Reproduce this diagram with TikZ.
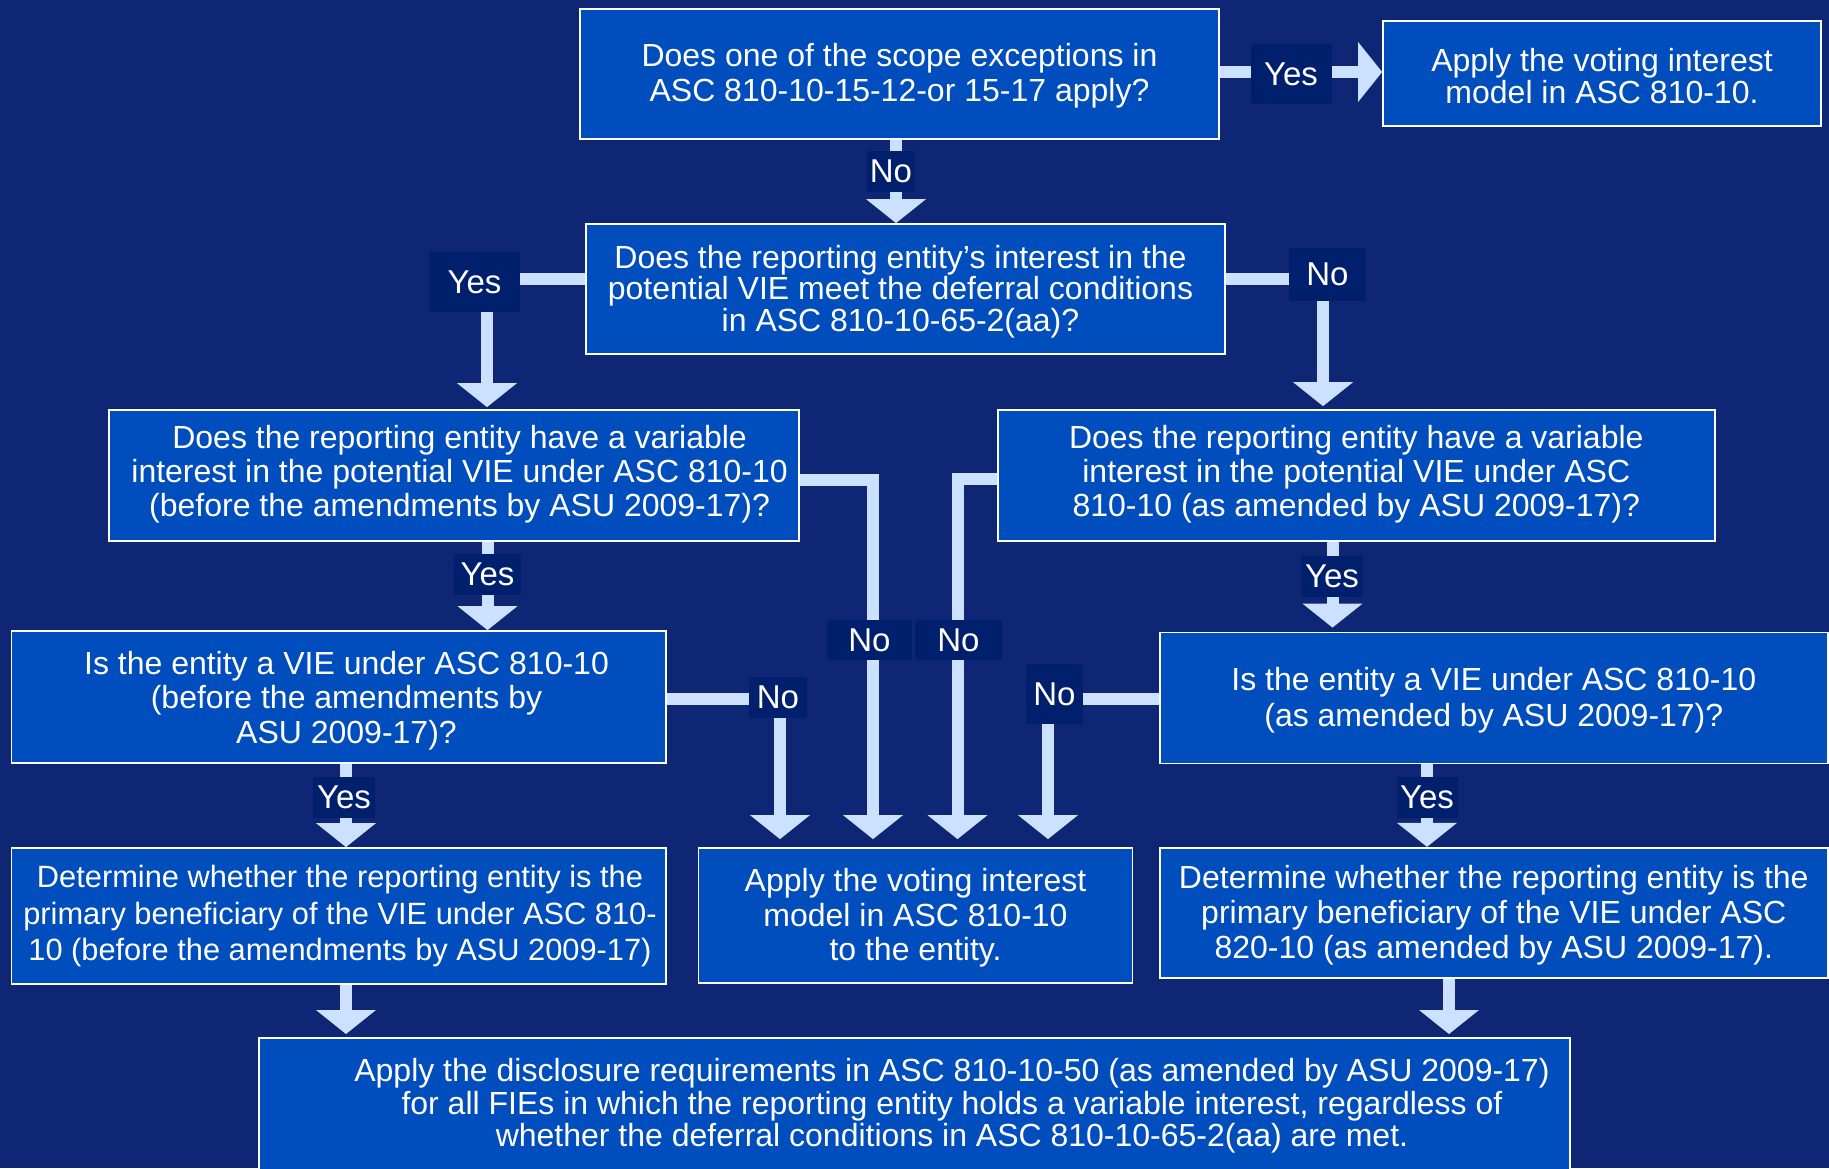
\documentclass[tikz,border=0pt]{standalone}
\usepackage{fontspec}
\setmainfont{Liberation Sans}
\usetikzlibrary{arrows.meta}
\definecolor{bgc}{RGB}{14,38,115}
\definecolor{boxc}{RGB}{0,77,190}
\definecolor{labc}{RGB}{0,32,110}
\definecolor{arrc}{RGB}{204,224,255}
\tikzset{
  box/.style={draw=white, line width=1.8pt, fill=boxc, inner sep=0pt},
  txt/.style={text=white, align=center, inner sep=0pt, font=\fontsize{32}{35}\selectfont},
  lead/.style={font=\fontsize{32}{#1}\selectfont},
  lab/.style={fill=labc, text=white, inner sep=0pt, font=\fontsize{33}{33}\selectfont},
  conn/.style={draw=arrc, line width=12pt, line join=miter, -{Triangle[width=60pt,length=24pt,line width=0pt]}},
}
\begin{document}
\begin{tikzpicture}[x=1pt,y=-1pt]
\fill[bgc] (0,0) rectangle (1829,1168);
\useasboundingbox (0,0) rectangle (1829,1168);
\clip (0,0) rectangle (1829,1168);

% boxes
\node[box, minimum width=639pt, minimum height=130pt] (B1) at (899.5,74) {};
\node[box, minimum width=438pt, minimum height=105pt] (B2) at (1602,73.5) {};
\node[box, minimum width=639pt, minimum height=130pt] (B3) at (905.5,289) {};
\node[box, minimum width=690pt, minimum height=131pt] (B4) at (454,475.5) {};
\node[box, minimum width=716.6pt, minimum height=130.7pt] (B5) at (1356.3,475.4) {};
\node[box, minimum width=654.5pt, minimum height=132pt] (B6) at (338.8,697) {};
\node[box, minimum width=667.6pt, minimum height=131pt] (B7) at (1493.8,698) {};
\node[box, minimum width=654.5pt, minimum height=135.6pt] (B8) at (338.8,915.8) {};
\node[box, minimum width=667.6pt, minimum height=130.3pt] (B9) at (1493.8,912.9) {};
\node[box, minimum width=434pt, minimum height=135pt] (B10) at (915.5,915.5) {};
\node[box, minimum width=1311pt, minimum height=200pt, anchor=north west] (B11) at (258,1037) {};

% box texts
\node[txt] (B1t) at (899.5,75.5) {Does one of the scope exceptions in\\ASC 810-10-15-12-or 15-17 apply?};
\node[txt, lead=31.5] (B2t) at (1602,76) {Apply the voting interest\\model in ASC 810-10.};
\node[txt, lead=31.5] (B3t) at (900.5,291.5) {Does the reporting entity’s interest in the\\potential VIE meet the deferral conditions\\in ASC 810-10-65-2(aa)?};
\node[txt, lead=34] (B4t) at (459.6,474.5) {Does the reporting entity have a variable\\interest in the potential VIE under ASC 810-10\\(before the amendments by ASU 2009-17)?};
\node[txt, lead=34] (B5t) at (1356.3,474.5) {Does the reporting entity have a variable\\interest in the potential VIE under ASC\\810-10 (as amended by ASU 2009-17)?};
\node[txt, lead=34.4] (B6t) at (346.5,700.5) {Is the entity a VIE under ASC 810-10\\(before the amendments by\\ASU 2009-17)?};
\node[txt, lead=36] (B7t) at (1493.8,700.3) {Is the entity a VIE under ASC 810-10\\(as amended by ASU 2009-17)?};
\node[txt, font=\fontsize{30.8}{36.7}\selectfont] (B8t) at (340,916.3) {Determine whether the reporting entity is the\\primary beneficiary of the VIE under ASC 810-\\10 (before the amendments by ASU 2009-17)};
\node[txt, lead=35] (B9t) at (1493.8,915.5) {Determine whether the reporting entity is the\\primary beneficiary of the VIE under ASC\\820-10 (as amended by ASU 2009-17).};
\node[txt, lead=34.4] (B10t) at (915.5,917.8) {Apply the voting interest\\model in ASC 810-10\\to the entity.};
\node[txt, lead=32.7] (B11t) at (952,1105.8) {Apply the disclosure requirements in ASC 810-10-50 (as amended by ASU 2009-17)\\for all FIEs in which the reporting entity holds a variable interest, regardless of\\whether the deferral conditions in ASC 810-10-65-2(aa) are met.};

% connectors
\coordinate (k1) at (1300,72);
\draw[conn] (B1.east |- k1) -- (B2.west |- k1);
\coordinate (k2) at (896,171);
\draw[conn] (B1.south -| k2) -- (B3.north -| k2);
\coordinate (k3) at (487,279);
\draw[conn, shorten >=2pt] (B3.west |- k3) -| (B4.north -| k3);
\coordinate (k4) at (1323,279);
\draw[conn, shorten >=3pt] (B3.east |- k4) -| (B5.north -| k4);
\coordinate (k5) at (487.5,575);
\draw[conn] (B4.south -| k5) -- (B6.north -| k5);
\coordinate (k6) at (873,479.5);
\draw[conn, shorten >=8pt] (B4.east |- k6) -| (B10.north -| k6);
\coordinate (k7) at (957.5,478.5);
\draw[conn, shorten >=8pt] (B5.west |- k7) -| (B10.north -| k7);
\coordinate (k8) at (780,699);
\draw[conn, shorten >=8pt] (B6.east |- k8) -| (B10.north -| k8);
\coordinate (k9) at (1048,699);
\draw[conn, shorten >=8pt] (B7.west |- k9) -| (B10.north -| k9);
\coordinate (k10) at (346,797);
\draw[conn] (B6.south -| k10) -- (B8.north -| k10);
\coordinate (k11) at (1332.5,577);
\draw[conn, shorten >=4pt] (B5.south -| k11) -- (B7.north -| k11);
\coordinate (k12) at (1427,797);
\draw[conn] (B7.south -| k12) -- (B9.north -| k12);
\coordinate (k13) at (346,1010);
\draw[conn, shorten >=3pt] (B8.south -| k13) -- (B11.north -| k13);
\coordinate (k14) at (1449,1010);
\draw[conn, shorten >=3pt] (B9.south -| k14) -- (B11.north -| k14);

% labels
\node[lab, minimum width=81pt, minimum height=60pt] (L1) at (1291,74) {Yes};
\node[lab, minimum width=48pt, minimum height=41pt] (L2) at (891,171) {No};
\node[lab, minimum width=91pt, minimum height=60pt] (L3) at (474.5,282) {Yes};
\node[lab, minimum width=77pt, minimum height=53pt] (L4) at (1327.5,274.5) {No};
\node[lab, minimum width=67pt, minimum height=41pt] (L5) at (487.5,574.5) {Yes};
\node[lab, minimum width=85pt, minimum height=40pt] (L6) at (869.5,640) {No};
\node[lab, minimum width=87pt, minimum height=40pt] (L7) at (958.5,640) {No};
\node[lab, minimum width=58pt, minimum height=41pt] (L8) at (778,697.5) {No};
\node[lab, minimum width=57pt, minimum height=60pt] (L9) at (1054.5,694) {No};
\node[lab, minimum width=62pt, minimum height=41pt] (L10) at (344,797) {Yes};
\node[lab, minimum width=62pt, minimum height=41pt] (L11) at (1332,576.5) {Yes};
\node[lab, minimum width=61pt, minimum height=41pt] (L12) at (1427,797.5) {Yes};
\end{tikzpicture}
\end{document}
